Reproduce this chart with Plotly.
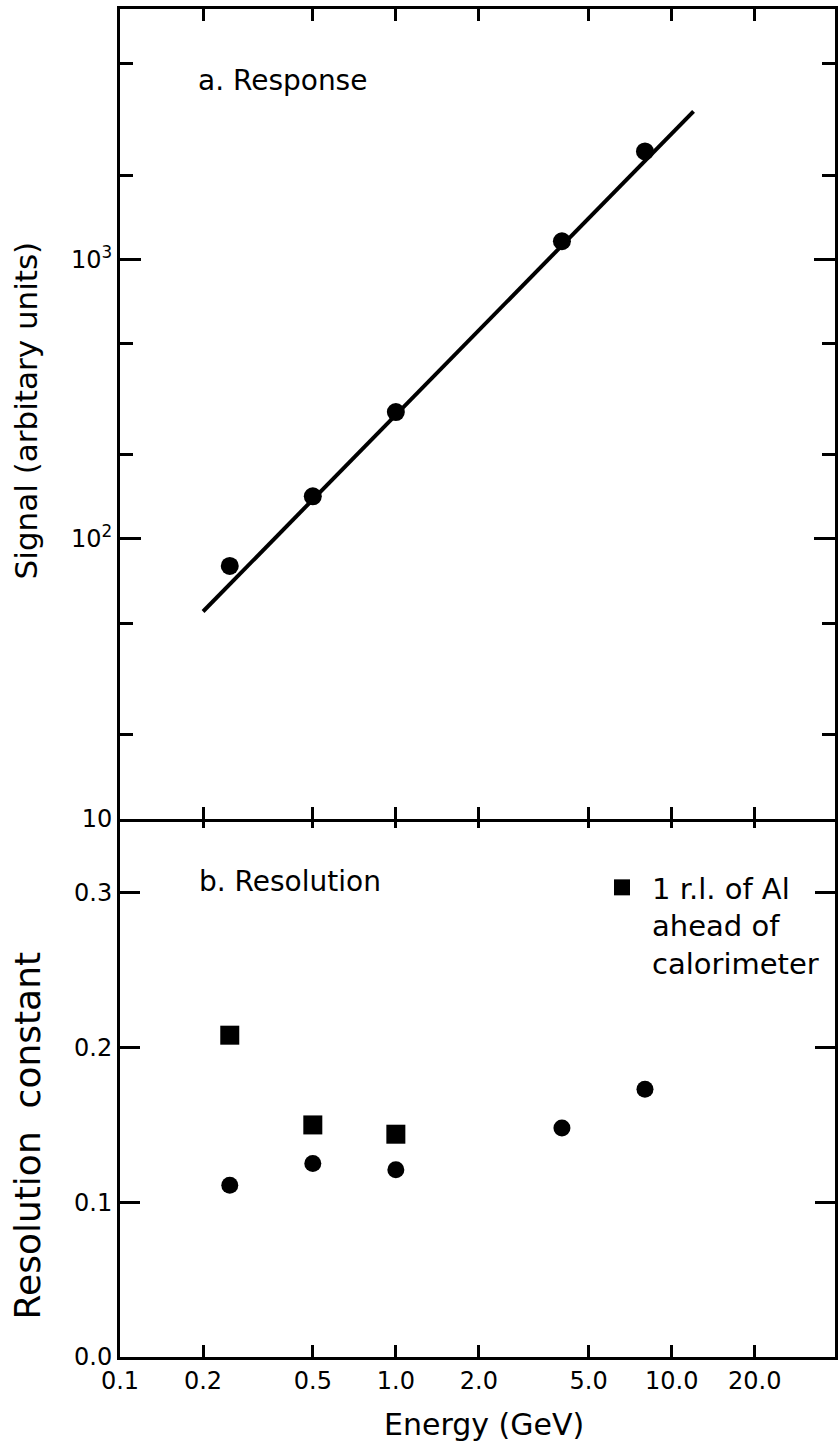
import plotly.graph_objects as go

# ---------------- data ----------------
energy = [0.25, 0.5, 1.0, 4.0, 8.0]
signal = [80, 142, 284, 1160, 2430]
fit_energy = [0.2, 12.0]
fit_signal = [55, 3380]

res_energy = [0.25, 0.5, 1.0, 4.0, 8.0]
res_const = [0.111, 0.125, 0.121, 0.148, 0.173]
al_energy = [0.25, 0.5, 1.0]
al_res_const = [0.208, 0.150, 0.144]

x_tickvals = [0.1, 0.2, 0.5, 1, 2, 5, 10, 20]
x_ticktext = ["0.1", "0.2", "0.5", "1.0", "2.0", "5.0", "10.0", "20.0"]
x_long_ticks = [1, 10]
sig_tickvals = [10, 100, 1000]
sig_ticktext = ["10", "10<sup>2</sup>", "10<sup>3</sup>"]
sig_minor = [20, 50, 200, 500, 2000, 5000]
res_tickvals = [0.0, 0.1, 0.2, 0.3]
res_ticktext = ["0.0", "0.1", "0.2", "0.3"]

# ---------------- layout geometry ----------------
W, H = 839, 1449
ML, MR, MT, MB = 120, 1, 9, 92
PW, PH = W - ML - MR, H - MT - MB
SPLIT = 540 / PH
OVL = 1.5 / PH
X_RANGE = [-1, 1.592]
FONT = "DejaVu Sans"


def px_x(px):
    return (px - ML) / PW


def px_y(py):
    return (H - MB - py) / PH


fig = go.Figure()

# top panel
fig.add_trace(go.Scatter(x=fit_energy, y=fit_signal, mode="lines",
                         line=dict(color="black", width=4),
                         xaxis="x2", yaxis="y2", showlegend=False))
fig.add_trace(go.Scatter(x=energy, y=signal, mode="markers",
                         marker=dict(symbol="circle", size=18, color="black"),
                         xaxis="x2", yaxis="y2", showlegend=False))
# bottom panel
fig.add_trace(go.Scatter(x=res_energy, y=res_const, mode="markers",
                         marker=dict(symbol="circle", size=17, color="black"),
                         xaxis="x", yaxis="y", showlegend=False))
fig.add_trace(go.Scatter(x=al_energy, y=al_res_const, mode="markers",
                         marker=dict(symbol="square", size=19, color="black"),
                         xaxis="x", yaxis="y",
                         name="1 r.l. of Al<br>ahead of<br>calorimeter",
                         showlegend=True))

tickfont = dict(family=FONT, size=24, color="black")
common_x = dict(type="log", range=X_RANGE, showgrid=False, zeroline=False,
                ticks="inside", tickcolor="black", tickwidth=2.5)

fig.update_layout(
    width=W, height=H,
    margin=dict(l=ML, r=MR, t=MT, b=MB, pad=0),
    paper_bgcolor="white", plot_bgcolor="white",
    font=dict(family=FONT, color="black"),
    xaxis=dict(**common_x, domain=[0, 1], anchor="y",
               tickvals=x_tickvals, ticktext=x_ticktext, ticklen=12,
               showline=True, linecolor="black", linewidth=3, mirror="ticks",
               tickfont=tickfont),
    xaxis3=dict(**common_x, overlaying="x", anchor="y",
                tickvals=x_long_ticks, ticklen=20, showline=False,
                mirror="ticks", showticklabels=False),
    xaxis2=dict(**common_x, domain=[0, 1], anchor="y2",
                tickvals=x_tickvals, ticklen=12,
                showline=True, linecolor="black", linewidth=3, mirror="ticks",
                showticklabels=False),
    xaxis4=dict(**common_x, overlaying="x2", anchor="y2",
                tickvals=x_long_ticks, ticklen=20, showline=False,
                mirror="ticks", showticklabels=False),
    yaxis=dict(domain=[0, SPLIT + OVL], anchor="x", range=[0, 0.35],
               tickvals=res_tickvals, ticktext=res_ticktext,
               ticks="inside", ticklen=20, tickwidth=2.5, tickcolor="black",
               showline=True, linecolor="black", linewidth=3, mirror="ticks",
               showgrid=False, zeroline=False, tickfont=tickfont),
    yaxis2=dict(domain=[SPLIT - OVL, 1], anchor="x2", type="log",
                range=[1, 3.895],
                tickvals=sig_tickvals, ticktext=sig_ticktext,
                ticks="inside", ticklen=21, tickwidth=2.5, tickcolor="black",
                minor=dict(tickvals=sig_minor, ticks="inside", ticklen=13,
                           tickwidth=2.5, tickcolor="black", showgrid=False),
                showline=True, linecolor="black", linewidth=3, mirror="ticks",
                showgrid=False, zeroline=False, tickfont=tickfont),
    legend=dict(x=px_x(594), y=px_y(862), xanchor="left", yanchor="top",
                valign="top", bgcolor="rgba(0,0,0,0)", itemwidth=50,
                font=dict(family=FONT, size=29, color="black"),
                itemclick=False),
    showlegend=True,
)

annotations = [
    dict(text="a. Response", x=px_x(196), y=px_y(80), xanchor="left",
         yanchor="middle", font=dict(size=28)),
    dict(text="b. Resolution", x=px_x(197), y=px_y(881), xanchor="left",
         yanchor="middle", font=dict(size=28)),
    dict(text="Signal (arbitary units)", x=px_x(26), y=px_y(410),
         textangle=-90, xanchor="center", yanchor="middle",
         font=dict(size=31)),
    dict(text="Resolution\u00a0\u00a0constant", x=px_x(27), y=px_y(1135),
         textangle=-90, xanchor="center", yanchor="middle",
         font=dict(size=36)),
    dict(text="Energy (GeV)", x=px_x(486), y=px_y(1424),
         xanchor="center", yanchor="middle", font=dict(size=30)),
]
for a in annotations:
    a.update(xref="paper", yref="paper", showarrow=False)
    a["font"].update(family=FONT, color="black")
fig.update_layout(annotations=annotations)

fig.write_html("out.html")
